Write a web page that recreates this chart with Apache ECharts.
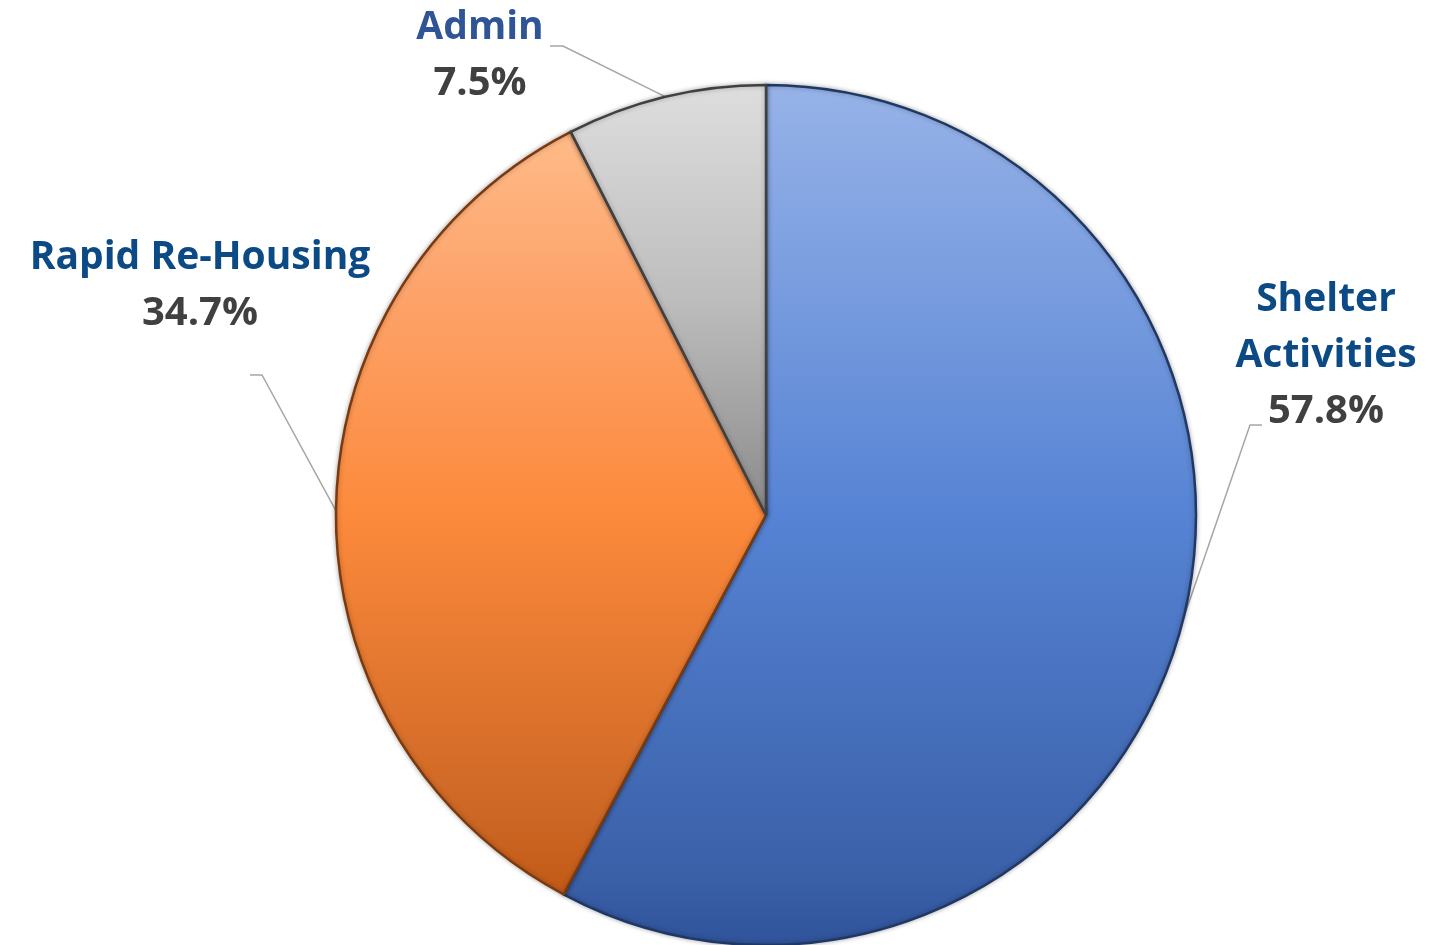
<!DOCTYPE html>
<html>
<head>
<meta charset="utf-8">
<script src="https://cdn.jsdelivr.net/npm/echarts@6/dist/echarts.min.js"></script>
<style>
  html, body { margin: 0; padding: 0; background: #fff; }
  #main { width: 1446px; height: 945px; }
</style>
</head>
<body>
<div id="main"></div>
<script>
// slices, clockwise from 12 o'clock
var names = ['Shelter\nActivities', 'Rapid Re-Housing', 'Admin'];
var values = [57.8, 34.7, 7.5];

// gradient stops + edge colour per slice
var sliceStops = [
  [[0, '#97b3e8'], [0.5, '#5683d4'], [0.92, '#3a60a8'], [1, '#30539a']],
  [[0, '#ffbb88'], [0.2, '#fda46c'], [0.5, '#fc8a3c'], [0.9, '#cc6624'], [1, '#c25a16']],
  [[0, '#dedede'], [0.5, '#bdbdbd'], [1, '#8a8a8a']]
];
var edgeColors = ['#1f3864', '#7a3a10', '#404040'];
var nameColors = ['#0b4a84', '#0b4a84', '#2f5597'];

// label placement (center x, top y) and the elbow of each leader line
var labelPos = [[1326, 272], [200, 230], [480, 0]];
var lineElbow = [[[1250, 425], [1262, 425]], [[262, 375], [250, 375]], [[563, 46], [550, 46]]];

var chart = echarts.init(document.getElementById('main'));

var seriesData = [];
for (var i = 0; i < values.length; i++) {
  seriesData.push({
    name: names[i],
    value: values[i],
    itemStyle: {
      color: new echarts.graphic.LinearGradient(0, 0, 0, 1, sliceStops[i].map(function (s) {
        return { offset: s[0], color: s[1] };
      })),
      borderColor: edgeColors[i],
      borderWidth: 2.5
    },
    label: {
      rich: {
        n: { color: nameColors[i] }
      }
    }
  });
}

chart.setOption({
  animation: false,
  series: [{
    type: 'pie',
    center: [766, 515],
    radius: 430,
    startAngle: 90,
    clockwise: true,
    data: seriesData,
    itemStyle: {
      shadowBlur: 5,
      shadowColor: 'rgba(0,0,0,0.3)'
    },
    label: {
      show: true,
      position: 'outside',
      overflow: 'none',
      formatter: function (p) {
        var lines = p.name.split('\n').map(function (s) { return '{n|' + s + '}'; });
        return lines.join('\n') + '\n{p|' + p.value.toFixed(1) + '%}';
      },
      align: 'center',
      rich: {
        n: {
          fontFamily: 'Open Sans',
          fontWeight: 'bold',
          fontSize: 39,
          lineHeight: 56,
          align: 'center'
        },
        p: {
          fontFamily: 'Open Sans',
          fontWeight: 'bold',
          fontSize: 40,
          lineHeight: 56,
          color: '#404040',
          align: 'center'
        }
      }
    },
    labelLine: {
      show: true,
      length: 20,
      length2: 20,
      lineStyle: { color: '#a6a6a6', width: 1.5 }
    },
    labelLayout: function (params) {
      var i = params.dataIndex;
      var start = params.labelLinePoints[0];
      return {
        x: labelPos[i][0],
        y: labelPos[i][1],
        align: 'center',
        verticalAlign: 'top',
        labelLinePoints: [start, lineElbow[i][0], lineElbow[i][1]]
      };
    }
  }]
});
</script>
</body>
</html>
